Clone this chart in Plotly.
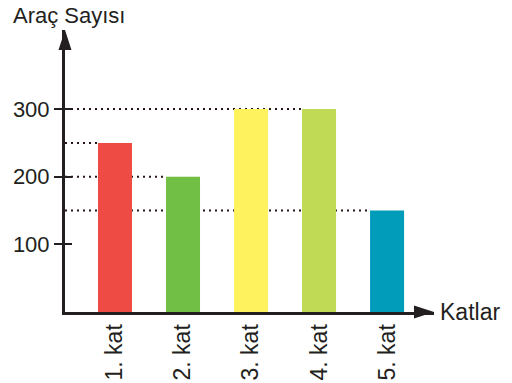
import plotly.graph_objects as go

# veriler
KATLAR = ["1. kat", "2. kat", "3. kat", "4. kat", "5. kat"]
ARAC_SAYISI = [250, 200, 300, 300, 150]
RENKLER = ["#EE4B45", "#71BF44", "#FEF35F", "#C0DA55", "#009CBA"]
Y_TICKS = [100, 200, 300]

BAR_W = 0.5
X_RANGE = [0.265, 5.69]
Y_RANGE = [0, 417]
INK = "#231F20"
FONT = "Liberation Sans, Arial, sans-serif"

x_pos = list(range(1, len(KATLAR) + 1))

fig = go.Figure()

fig.add_trace(go.Bar(
    x=x_pos, y=ARAC_SAYISI, width=BAR_W,
    marker=dict(color=RENKLER, line=dict(width=0)),
    hoverinfo="skip",
))

# noktalı yardımcı çizgiler (eksenden son çubuğun sol kenarına)
for v in sorted(set(ARAC_SAYISI)):
    last = max(i for i, a in zip(x_pos, ARAC_SAYISI) if a == v)
    fig.add_shape(
        type="line", xref="x", yref="y",
        x0=X_RANGE[0], x1=last - BAR_W / 2, y0=v, y1=v,
        layer="below",
        line=dict(color="#2A1515", width=2, dash="2px,4px"),
    )

# eksen okları
fig.add_trace(go.Scatter(
    x=[X_RANGE[1], X_RANGE[0]], y=[0, Y_RANGE[1]],
    mode="markers",
    marker=dict(symbol="arrow", angle=[90, 0], size=21, color=INK, line=dict(width=0)),
    cliponaxis=False, hoverinfo="skip", yaxis="y2",
))

# sayfa gövdesinin 8px kenar boşluğu hesaba katıldı
fig.update_layout(
    width=504, height=375,
    margin=dict(l=57, r=78, t=22, b=71),
    plot_bgcolor="white", paper_bgcolor="white",
    showlegend=False,
    font=dict(family=FONT, color=INK, size=22),
    xaxis=dict(
        range=X_RANGE, tickvals=x_pos, ticktext=KATLAR, tickangle=-90,
        showgrid=False, zeroline=False, showline=True, linewidth=3, linecolor=INK,
        ticks="", tickfont=dict(size=23, color=INK), automargin=False,
    ),
    yaxis=dict(
        range=Y_RANGE, tickvals=Y_TICKS,
        showgrid=False, zeroline=False, showline=True, linewidth=3, linecolor=INK,
        ticks="outside", ticklen=8, tickwidth=2, tickcolor=INK,
        tickfont=dict(size=22, color=INK), automargin=False,
    ),
    yaxis2=dict(
        range=Y_RANGE, tickvals=Y_TICKS, overlaying="y", side="left",
        showgrid=False, zeroline=False, showline=False, showticklabels=False,
        ticks="inside", ticklen=7, tickwidth=2, tickcolor=INK, automargin=False,
    ),
    annotations=[
        dict(text="Araç Sayısı", xref="paper", yref="paper", x=-0.145, y=1.0,
             xanchor="left", yanchor="bottom", showarrow=False,
             font=dict(size=22, color=INK)),
        dict(text="Katlar", xref="paper", yref="paper", x=1.01, y=0,
             xanchor="left", yanchor="middle", showarrow=False,
             font=dict(size=23, color=INK)),
    ],
)

fig.write_html("out.html")
